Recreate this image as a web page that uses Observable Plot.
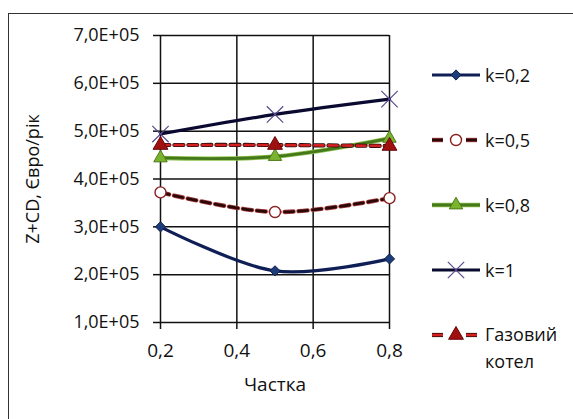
<!DOCTYPE html>
<html><head><meta charset="utf-8">
<script src="https://cdn.jsdelivr.net/npm/d3@7"></script>
<script src="https://cdn.jsdelivr.net/npm/@observablehq/plot@0.6"></script>
<style>
body{margin:0;background:#fff;font-family:"Open Sans",sans-serif;}
#wrap{position:relative;width:573px;height:419px;overflow:hidden;background:#fff}
#frame{position:absolute;left:8px;top:13px;width:600px;height:450px;border:1.5px solid #333;box-sizing:border-box}
#chart{position:absolute;left:0;top:0}
#legend{position:absolute;left:432px;top:65px;font-family:"Open Sans",sans-serif;font-size:18px;font-weight:500;color:#111}
.item{display:flex;align-items:flex-start;height:65px}
.item svg{flex:none;margin-top:0}
.item span{margin-left:5px;line-height:20px}
</style></head><body>
<div id="wrap"><div id="frame"></div><div id="chart"></div><div id="legend"></div></div>
<script>
const shares = [0.2, 0.5, 0.8];
const seriesNames = ["k=0,2", "k=0,5", "k=0,8", "k=1", "Газовий котел"];
const k02 = [300000, 208000, 233000];
const k05 = [372000, 331000, 360000];
const k08 = [444000, 447000, 485000];
const k1 = [494000, 535000, 567000];
const gas = [471000, 471000, 469000];
const xTicks = [0.2, 0.4, 0.6, 0.8];
const yTicks = [100000, 200000, 300000, 400000, 500000, 600000, 700000];

const values = [k02, k05, k08, k1, gas];
const styles = [
  {line: "#0f1f55", under: null, width: 3.2, dash: null, symbol: "diamond2", r: 4.6, fill: "#1f3c7a", stroke: "#0d1e4a", sw: 1},
  {line: "#2a0808", under: "#a84040", width: 2.8, dash: "9,5", symbol: "circle", r: 5.5, fill: "#fff", stroke: "#8b2020", sw: 1.4},
  {line: "#44781a", under: "#8cc04a", width: 2.8, dash: null, symbol: "triangle", r: 5, fill: "#7ab32e", stroke: "#4d7a1a", sw: 1},
  {line: "#0a0a30", under: null, width: 3.2, dash: null, symbol: "times", r: 7.5, fill: "none", stroke: "#5a4a8c", sw: 1.2},
  {line: "#d42020", under: "#2a0a0a", width: 2.6, dash: "9,5", symbol: "triangle", r: 5.5, fill: "#a01010", stroke: "#6a0808", sw: 1}
];

const rows = seriesNames.map((name, i) => values[i].map((v, j) => ({name, x: shares[j], y: v})));
const fmtY = v => (v / 1e5).toFixed(1).replace(".", ",") + "E+05";
const fmtX = v => v.toFixed(1).replace(".", ",");

const seriesMarks = rows.flatMap((data, i) => {
  const s = styles[i];
  const m = [];
  if (s.under) m.push(Plot.line(data, {x: "x", y: "y", curve: "cardinal", tension: 0, stroke: s.under, strokeWidth: s.width + 1.6, strokeDasharray: s.dash || undefined}));
  m.push(Plot.line(data, {x: "x", y: "y", curve: "cardinal", tension: 0, stroke: s.line, strokeWidth: s.width, strokeDasharray: s.dash || undefined}));
  m.push(Plot.dot(data, {x: "x", y: "y", symbol: () => s.symbol, r: s.r, fill: s.fill, stroke: s.stroke, strokeWidth: s.sw}));
  return m;
});

const chart = Plot.plot({
  width: 573, height: 419,
  marginLeft: 160, marginRight: 184, marginTop: 35, marginBottom: 97,
  x: {domain: [0.2, 0.8]},
  y: {domain: [100000, 700000]},
  style: {fontFamily: "'Open Sans', sans-serif", fontSize: "18px", fontWeight: 500, color: "#111", background: "transparent", overflow: "visible"},
  marks: [
    Plot.gridX(xTicks, {stroke: "#111", strokeOpacity: 1, strokeWidth: 1.5}),
    Plot.gridY(yTicks, {stroke: "#111", strokeOpacity: 1, strokeWidth: 1.5}),
    Plot.axisY({ticks: yTicks, tickFormat: fmtY, tickSize: 7, tickPadding: 14, strokeWidth: 1.5, label: "Z+CD, Євро/рік", labelAnchor: "center", labelOffset: 134, labelArrow: "none", fontSize: 18}),
    Plot.axisX({ticks: xTicks, tickFormat: fmtX, tickSize: 7, tickPadding: 14, strokeWidth: 1.5, label: "Частка", labelAnchor: "center", labelOffset: 68, labelArrow: "none", fontSize: 19}),
    ...seriesMarks
  ]
});
document.getElementById("chart").appendChild(chart);

// legend
const legend = d3.select("#legend");
seriesNames.forEach((name, i) => {
  const s = styles[i];
  const item = legend.append("div").attr("class", "item");
  const svg = item.append("svg").attr("width", 48).attr("height", 20);
  const sym = d3.symbol().type({diamond2: d3.symbolDiamond2, circle: d3.symbolCircle, triangle: d3.symbolTriangle, times: d3.symbolTimes}[s.symbol]).size(Math.PI * s.r * s.r);
  const cx = 24;
  if (s.dash) {
    [[0, 11], [34, 45]].forEach(([a, b]) => {
      if (s.under) svg.append("line").attr("x1", a).attr("x2", b).attr("y1", 10).attr("y2", 10).attr("stroke", s.under).attr("stroke-width", s.width + 1.6);
      svg.append("line").attr("x1", a).attr("x2", b).attr("y1", 10).attr("y2", 10).attr("stroke", s.line).attr("stroke-width", s.width);
    });
  } else {
    if (s.under) svg.append("line").attr("x1", 0).attr("x2", 48).attr("y1", 10).attr("y2", 10).attr("stroke", s.under).attr("stroke-width", s.width + 1.6);
    svg.append("line").attr("x1", 0).attr("x2", 48).attr("y1", 10).attr("y2", 10).attr("stroke", s.line).attr("stroke-width", s.width);
  }
  svg.append("path").attr("d", sym()).attr("transform", `translate(${cx},10)`).attr("fill", s.fill).attr("stroke", s.stroke).attr("stroke-width", s.sw);
  const parts = name.split(" ");
  item.append("span").html(parts.join("<br>")).style("line-height", parts.length > 1 ? "27px" : "20px").style("margin-top", parts.length > 1 ? "-4px" : "0");
});
</script>
</body></html>
